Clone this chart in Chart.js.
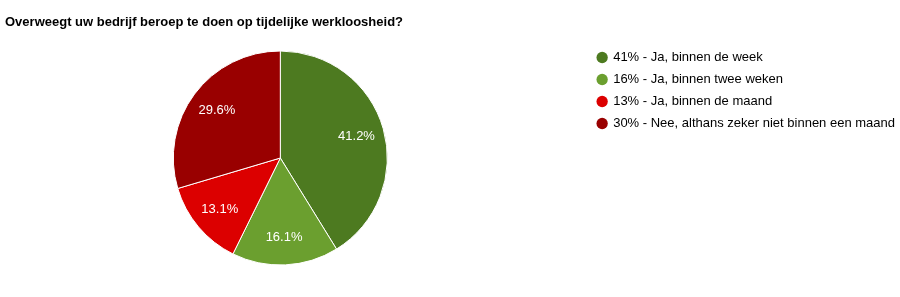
<!DOCTYPE html>
<html>
<head>
<meta charset="utf-8">
<script src="https://cdn.jsdelivr.net/npm/chart.js@4.4.1/dist/chart.umd.min.js"></script>
<style>
  html, body { margin: 0; padding: 0; background: #fff; }
  #wrap { position: relative; width: 900px; height: 297px; }
</style>
</head>
<body>
<div id="wrap"><canvas id="myChart" width="900" height="297"></canvas></div>
<script>
const categories = [
  "Ja, binnen de week",
  "Ja, binnen twee weken",
  "Ja, binnen de maand",
  "Nee, althans zeker niet binnen een maand"
];
const values = [41.2, 16.1, 13.1, 29.6];
const legendPercents = ["41%", "16%", "13%", "30%"];
const colors = ["#4d7a20", "#6b9f2f", "#dc0000", "#990000"];

const titleText = "Overweegt uw bedrijf beroep te doen op tijdelijke werkloosheid?";

// white percentage labels inside the slices
const sliceLabels = {
  id: "sliceLabels",
  afterDatasetsDraw(chart) {
    const ctx = chart.ctx;
    const meta = chart.getDatasetMeta(0);
    ctx.save();
    ctx.fillStyle = "#ffffff";
    ctx.font = "13px Arial, 'Liberation Sans', sans-serif";
    ctx.textAlign = "center";
    ctx.textBaseline = "middle";
    meta.data.forEach((arc, i) => {
      const p = arc.getProps(["x", "y", "startAngle", "endAngle", "outerRadius"], true);
      const mid = (p.startAngle + p.endAngle) / 2;
      const r = p.outerRadius * 0.74;
      ctx.fillText(values[i].toFixed(1) + "%", p.x + Math.cos(mid) * r, p.y + Math.sin(mid) * r);
    });
    ctx.restore();
  }
};

// leave some room between the pie and the legend
const legendGap = {
  id: "legendGap",
  beforeInit(chart) {
    const fit = chart.legend.fit;
    chart.legend.fit = function () {
      fit.call(this);
      this.width += 28;
    };
  },
  afterLayout(chart) {
    chart.legend.left += 33;
  }
};

const myChart = new Chart(document.getElementById("myChart").getContext("2d"), {
  type: "pie",
  data: {
    labels: categories,
    datasets: [
      {
        data: values,
        backgroundColor: colors,
        borderColor: "#ffffff",
        borderWidth: 1,
        radius: 107,
      },
    ],
  },
  options: {
    responsive: false,
    animation: false,
    layout: { padding: { left: 5, right: 0, top: 8, bottom: 23 } },
    plugins: {
      title: {
        display: true,
        text: titleText,
        align: "start",
        color: "#000000",
        font: { family: "Arial, 'Liberation Sans', sans-serif", size: 13, weight: "bold", lineHeight: 1.2 },
        padding: { top: 6.9, bottom: 11.5 },
      },
      legend: {
        position: "right",
        align: "start",
        fullSize: false,
        labels: {
          usePointStyle: true,
          pointStyle: "circle",
          boxWidth: 9,
          boxHeight: 8,
          padding: 9,
          color: "#222222",
          font: { family: "Arial, 'Liberation Sans', sans-serif", size: 13 },
          generateLabels(chart) {
            return categories.map((c, i) => ({
              text: legendPercents[i] + " - " + c,
              fillStyle: colors[i],
              strokeStyle: colors[i],
              lineWidth: 0,
              pointStyle: "circle",
              hidden: false,
              index: i,
            }));
          },
        },
      },
      tooltip: { enabled: false },
    },
  },
  plugins: [sliceLabels, legendGap],
});
</script>
</body>
</html>
